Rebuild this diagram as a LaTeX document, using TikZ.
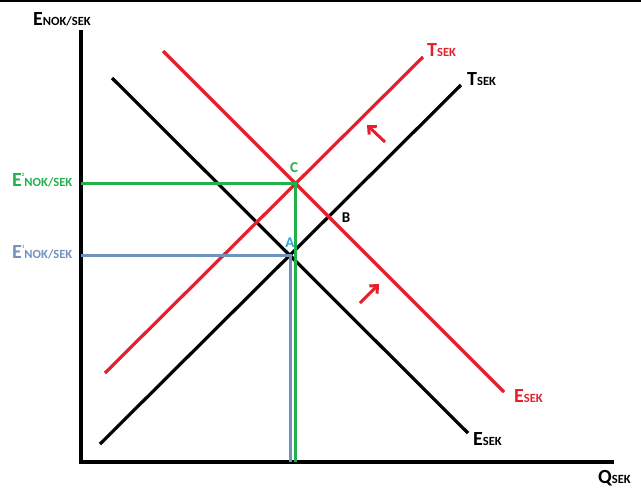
\documentclass[tikz,border=0pt]{standalone}
\usepackage{fontspec}
\setmainfont{Carlito}
\usetikzlibrary{arrows.meta}
\definecolor{CurveRed}{HTML}{E3202B}
\definecolor{LevelGreen}{HTML}{22B14C}
\definecolor{LevelBlue}{HTML}{7092BE}
\definecolor{PointBlue}{HTML}{2BA6E0}
\newcommand{\sub}[2]{{\fontsize{20}{20}\selectfont #1}{\fontsize{12.5}{12.5}\selectfont #2}}
\newcommand{\supsub}[3]{{\fontsize{20}{20}\selectfont #1}\raisebox{10pt}{\fontsize{5}{5}\selectfont #2}{\fontsize{12.5}{12.5}\selectfont #3}}

\begin{document}
\begin{tikzpicture}[x=1pt,y=-1pt,>={Straight Barb[length=6pt,width=11pt]},
    axis/.style={line width=4.5pt,line cap=rect},
    curve/.style={line width=3.2pt},
    level/.style={line width=3pt},
    lbl/.style={font=\bfseries,inner sep=0pt,anchor=base west},
    pt/.style={font=\bfseries\fontsize{15}{15}\selectfont,inner sep=0pt,anchor=base}]
  \useasboundingbox (0,0) rectangle (641,490);
  \fill (0,0) rectangle (641,2.3);
  % axes
  \coordinate (O) at (81,462);
  \draw[axis] (81,32) -- (O) -- (612,462);
  % curves
  \coordinate (Es) at (112,78);   \coordinate (Ee) at (468,433);
  \coordinate (Ts) at (100,444);  \coordinate (Te) at (461,85);
  \coordinate (Ts2) at (105,373); \coordinate (Te2) at (423,57);
  \coordinate (Es2) at (163,51);  \coordinate (Ee2) at (504,392);
  \draw[curve] (Es) -- (Ee);
  \draw[curve] (Ts) -- (Te);
  \draw[curve,CurveRed] (Ts2) -- (Te2);
  \draw[curve,CurveRed] (Es2) -- (Ee2);
  % equilibria
  \coordinate (A) at (290,255);
  \coordinate (C) at (295,183);
  \draw[level,LevelBlue] (81,255) -- (A) -- (290,462);
  \draw[level,LevelGreen] (81,183) -- (C) -- (295,462);
  \node[pt,PointBlue] (lA) at (290,247) {A};
  \node[pt,LevelGreen] (lC) at (294,172) {C};
  \node[pt] (lB) at (346,222) {B};
  % shifts
  \draw[->,line width=3pt,CurveRed] (360,303) -- (379,284);
  \draw[->,line width=3pt,CurveRed] (385,142) -- (367,125);
  % labels
  \node[lbl] (yl) at (33,25) {\sub{E}{NOK/SEK}};
  \node[lbl,LevelGreen] (e2) at (12,186) {\supsub{E}{2}{NOK/SEK}};
  \node[lbl,LevelBlue] (e1) at (12,258) {\supsub{E}{1}{NOK/SEK}};
  \node[lbl,CurveRed] (t2) at (427,56) {\sub{T}{SEK}};
  \node[lbl] (t1) at (467,85) {\sub{T}{SEK}};
  \node[lbl,CurveRed] (d2) at (514,402) {\sub{E}{SEK}};
  \node[lbl] (d1) at (473,445) {\sub{E}{SEK}};
  \node[lbl] (xl) at (598,483) {\sub{Q}{SEK}};
\end{tikzpicture}
\end{document}
